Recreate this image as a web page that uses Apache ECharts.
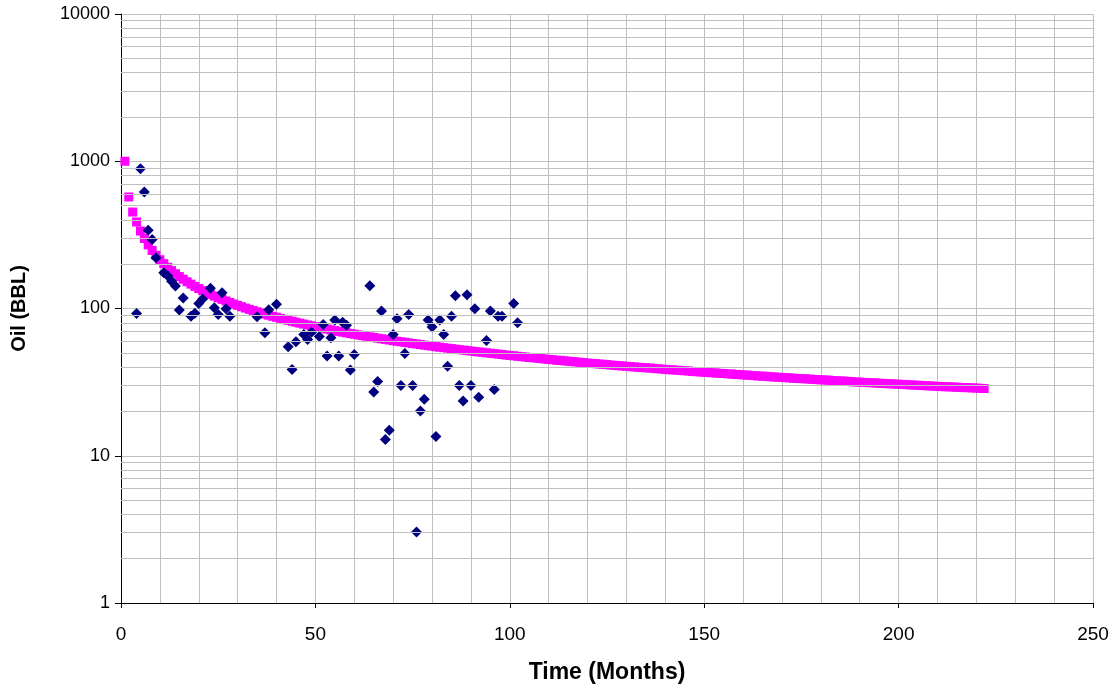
<!DOCTYPE html>
<html>
<head>
<meta charset="utf-8">
<title>Oil decline</title>
<script src="https://cdn.jsdelivr.net/npm/echarts@6/dist/echarts.min.js"></script>
<style>
  html, body { margin: 0; padding: 0; background: #ffffff; }
  #chart { width: 1117px; height: 689px; }
</style>
</head>
<body>
<div id="chart"></div>
<script>
// Monthly oil production (BBL) recorded on the well
const prodMonths = [4, 5, 6, 7, 8, 9, 11, 12, 13, 14, 15, 16, 18, 19, 20, 21, 23, 24, 25, 26,
  27, 28, 35, 37, 38, 40, 43, 44, 45, 47, 48, 49, 51, 52, 53, 54, 55, 56, 57, 58,
  59, 60, 64, 65, 66, 67, 68, 69, 70, 71, 72, 73, 74, 75, 76, 77, 78, 79, 80, 81,
  82, 83, 84, 85, 86, 87, 88, 89, 90, 91, 92, 94, 95, 96, 97, 98, 101, 102];
const prodOil = [92.5, 890, 618, 340, 294, 221, 175, 167, 153, 142, 97.5, 118, 88.7, 93, 108, 116, 137, 101, 91, 128,
  99.5, 88.7, 88, 68.5, 98, 107, 55, 38.6, 59.5, 66.7, 61.7, 69, 64.5, 78, 47.5, 63.3, 83.4, 47.5, 80.5, 77,
  38.2, 48.8, 143, 27.1, 31.9, 96, 12.9, 14.9, 66.7, 85.2, 30, 49.5, 91, 30, 3.03, 20.1, 24.2, 83.4, 75, 13.5,
  83.4, 66.7, 40.6, 88.7, 122, 30, 23.5, 124, 30, 99.5, 25, 60.7, 96, 28.2, 88.7, 88.7, 108, 80];

// Forecast decline curve, one value per month starting at month 1
const declineOil = [
  1000, 572, 452, 387, 336, 299, 270.4, 248.0, 229.6, 214.5,
  201.6, 190.5, 180.8, 172.3, 164.8, 158.0, 151.9, 146.4, 141.3, 136.7,
  132.4, 128.5, 124.8, 121.4, 118.2, 115.3, 112.5, 109.9, 107.3, 105.0,
  102.8, 100.7, 98.7, 96.8, 95.0, 93.2, 91.6, 90.0, 88.5, 87.1,
  85.7, 84.3, 83.1, 81.9, 80.7, 79.5, 78.4, 77.3, 76.3, 75.3,
  74.3, 73.4, 72.5, 71.6, 70.8, 69.9, 69.1, 68.4, 67.6, 66.9,
  66.2, 65.5, 64.8, 64.2, 63.5, 62.9, 62.3, 61.7, 61.1, 60.5,
  59.9, 59.4, 58.9, 58.4, 57.9, 57.4, 56.9, 56.4, 56.0, 55.5,
  55.0, 54.6, 54.2, 53.8, 53.4, 53.0, 52.6, 52.2, 51.8, 51.4,
  51.1, 50.7, 50.4, 50.0, 49.7, 49.4, 49.0, 48.7, 48.3, 48.0,
  47.7, 47.4, 47.1, 46.8, 46.5, 46.3, 46.0, 45.7, 45.4, 45.1,
  44.9, 44.6, 44.4, 44.1, 43.9, 43.6, 43.4, 43.1, 42.9, 42.6,
  42.4, 42.2, 42.0, 41.8, 41.6, 41.3, 41.1, 40.9, 40.7, 40.5,
  40.3, 40.1, 39.9, 39.7, 39.6, 39.4, 39.2, 39.0, 38.8, 38.6,
  38.4, 38.3, 38.1, 37.9, 37.8, 37.6, 37.4, 37.2, 37.1, 36.9,
  36.8, 36.6, 36.5, 36.3, 36.2, 36.0, 35.9, 35.7, 35.6, 35.4,
  35.3, 35.1, 35.0, 34.8, 34.7, 34.6, 34.4, 34.3, 34.1, 34.0,
  33.9, 33.8, 33.6, 33.5, 33.4, 33.3, 33.2, 33.0, 32.9, 32.8,
  32.7, 32.6, 32.4, 32.3, 32.2, 32.1, 32.0, 31.8, 31.7, 31.6,
  31.5, 31.4, 31.3, 31.2, 31.1, 31.0, 30.9, 30.8, 30.7, 30.6,
  30.5, 30.4, 30.3, 30.2, 30.1, 30.0, 29.9, 29.8, 29.7, 29.6,
  29.5, 29.4, 29.4, 29.3, 29.2, 29.1, 29.0, 29.0, 28.9, 28.8,
  28.7, 28.6
];

// Axis ranges and gridline positions
const xTicks = [0, 50, 100, 150, 200, 250];
const yTicks = [1, 10, 100, 1000, 10000];
const yMinorLines = [2, 3, 4, 5, 6, 7, 8, 9,
  20, 30, 40, 50, 60, 70, 80, 90,
  200, 300, 400, 500, 600, 700, 800, 900,
  2000, 3000, 4000, 5000, 6000, 7000, 8000, 9000];

const gridColor = '#c0c0c0';
const font = '"Liberation Sans", Arial, sans-serif';

const prodData = prodMonths.map((m, i) => [m, prodOil[i]]);
const declineData = declineOil.map((v, i) => [i + 1, v]);

const chart = echarts.init(document.getElementById('chart'), null, { renderer: 'canvas' });

chart.setOption({
  animation: false,
  backgroundColor: '#ffffff',
  grid: { left: 121, right: 24, top: 14, bottom: 85, containLabel: false },
  xAxis: {
    type: 'value',
    min: xTicks[0],
    max: xTicks[xTicks.length - 1],
    interval: 50,
    name: 'Time (Months)',
    nameLocation: 'middle',
    nameGap: 58,
    nameTextStyle: { fontFamily: font, fontWeight: 'bold', fontSize: 23, color: '#000' },
    axisLine: { show: true, onZero: false, lineStyle: { color: '#000', width: 1 } },
    axisTick: { show: true, inside: false, length: 5, lineStyle: { color: '#000' } },
    axisLabel: { fontFamily: font, fontSize: 19, color: '#000', margin: 22 },
    splitLine: { show: true, lineStyle: { color: gridColor, width: 1 } },
    minorTick: { show: false, splitNumber: 5 },
    minorSplitLine: { show: true, lineStyle: { color: gridColor, width: 1 } }
  },
  yAxis: {
    type: 'log',
    logBase: 10,
    min: yTicks[0],
    max: yTicks[yTicks.length - 1],
    name: 'Oil (BBL)',
    nameLocation: 'middle',
    nameRotate: 90,
    nameGap: 92,
    nameTextStyle: { fontFamily: font, fontWeight: 'bold', fontSize: 20, color: '#000' },
    axisLine: { show: true, lineStyle: { color: '#000', width: 1 } },
    axisTick: { show: true, inside: false, length: 6, lineStyle: { color: '#000' } },
    axisLabel: {
      fontFamily: font, fontSize: 18, color: '#000', margin: 11,
      formatter: v => String(Math.round(v))
    },
    splitLine: { show: true, lineStyle: { color: gridColor, width: 1 } },
    minorTick: { show: false },
    minorSplitLine: { show: false }
  },
  series: [
    {
      // Minor log gridlines (2..9 within each decade)
      name: 'grid',
      type: 'scatter',
      data: [],
      silent: true,
      z: 1,
      markLine: {
        silent: true,
        symbol: ['none', 'none'],
        label: { show: false },
        animation: false,
        lineStyle: { color: gridColor, width: 1, type: 'solid' },
        data: yMinorLines.map(v => ({ yAxis: v }))
      }
    },
    {
      name: 'Decline',
      type: 'scatter',
      data: declineData,
      symbol: 'rect',
      symbolSize: 9,
      itemStyle: { color: '#ff00ff', opacity: 1 },
      z: 3
    },
    {
      name: 'Production',
      type: 'scatter',
      data: prodData,
      symbol: 'diamond',
      symbolSize: 11,
      itemStyle: { color: '#000080', opacity: 1 },
      z: 4
    }
  ]
});
</script>
</body>
</html>
